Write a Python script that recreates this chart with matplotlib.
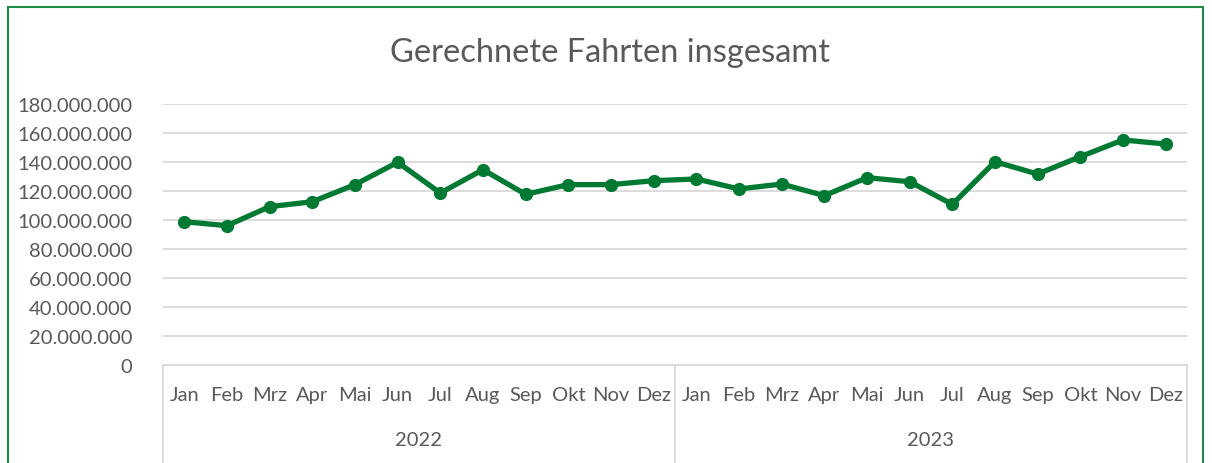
import matplotlib.pyplot as plt
import matplotlib.transforms as mtransforms
from matplotlib.ticker import FuncFormatter
from matplotlib.patches import Rectangle

# Data
months = ["Jan", "Feb", "Mrz", "Apr", "Mai", "Jun", "Jul", "Aug", "Sep", "Okt", "Nov", "Dez"]
years = ["2022", "2023"]
fahrten_2022 = [98.8, 96.1, 109.2, 112.6, 124.4, 139.8, 118.6, 134.7, 117.7, 124.4, 124.4, 127.1]
fahrten_2023 = [128.3, 121.4, 124.8, 116.8, 129.2, 126.4, 110.8, 140.2, 131.7, 143.7, 155.2, 152.4]

values = [v * 1e6 for v in fahrten_2022 + fahrten_2023]
labels = months * len(years)

green = "#007A33"
grey_text = "#595959"
grid_col = "#D9D9D9"

plt.rcParams["font.family"] = ["Lato", "DejaVu Sans"]

fig = plt.figure(figsize=(12.12, 4.64), dpi=100)
ax = fig.add_axes([163 / 1212, 1 - 366 / 464, (1187 - 163) / 1212, (366 - 105) / 464])

x = list(range(len(values)))
ax.plot(x, values, color=green, linewidth=3.8, marker="o", markersize=8.5, zorder=3)

ax.set_xlim(-0.5, len(values) - 0.5)
ax.set_ylim(0, 180e6)
ax.set_yticks([i * 20e6 for i in range(10)])
ax.yaxis.set_major_formatter(FuncFormatter(lambda v, p: f"{int(v):,}".replace(",", ".")))
ax.grid(axis="y", color=grid_col, linewidth=1.3)
ax.set_axisbelow(True)
for s in ["top", "right", "left"]:
    ax.spines[s].set_visible(False)
ax.spines["bottom"].set_color(grid_col)
ax.spines["bottom"].set_linewidth(1.3)

ax.set_xticks(x)
ax.set_xticklabels(labels)
ax.tick_params(axis="x", length=0, pad=15, labelsize=14.5, labelcolor=grey_text)
ax.tick_params(axis="y", length=0, pad=22, labelsize=14.5, labelcolor=grey_text)

# year groups below the month labels
trans = mtransforms.blended_transform_factory(ax.transData, ax.transAxes)
for i, yr in enumerate(years):
    ax.text(i * 12 + 5.5, -0.285, yr, transform=trans, ha="center", va="center",
            fontsize=14.5, color=grey_text)
for b in [-0.5, 11.5, 23.5]:
    ax.plot([b, b], [0, -0.4], transform=trans, color=grid_col, linewidth=1.3, clip_on=False)

fig.text(610 / 1212, 1 - 53 / 464, "Gerechnete Fahrten insgesamt", ha="center", va="center",
         fontsize=23.5, color=grey_text)

# green frame around the chart
fig.patches.append(Rectangle((8 / 1212, -0.05), (1203 - 8) / 1212, 1 - 8 / 464 + 0.05,
                             transform=fig.transFigure, fill=False, edgecolor="#1E8C45", linewidth=1.5))

fig.savefig("out.png", dpi=100)
